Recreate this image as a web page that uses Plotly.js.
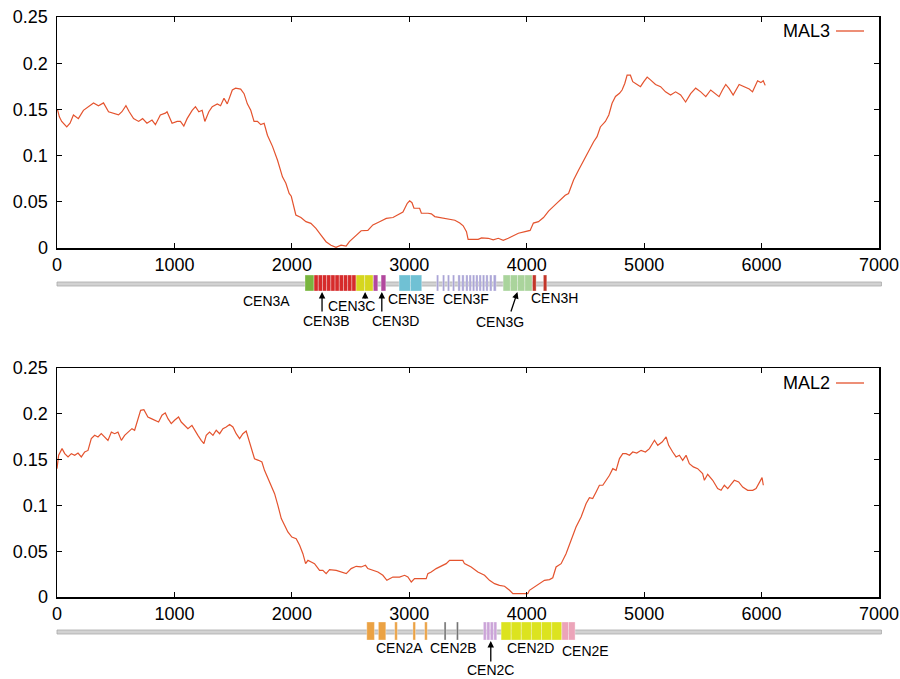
<!DOCTYPE html>
<html>
<head>
<meta charset="utf-8">
<script src="https://cdn.plot.ly/plotly-3.0.1.min.js"></script>
<style>html,body{margin:0;padding:0;background:#fff}#chart{width:900px;height:679px}</style>
</head>
<body>
<div id="chart"></div>
<script>
// ---------- data ----------
const mal3X = [0,6,20,40,83,111,140,182,225,268,311,353,396,439,481,524,553,587,615,652,695,729,766,809,838,880,923,937,980,1023,1051,1080,1108,1151,1179,1208,1236,1259,1293,1322,1365,1393,1422,1450,1493,1521,1564,1593,1621,1650,1678,1707,1735,1764,1792,1835,1878,1920,1949,1977,1995,2020,2034,2077,2120,2162,2205,2248,2291,2333,2376,2419,2462,2490,2533,2590,2647,2690,2747,2804,2861,2903,2946,2983,3003,3023,3040,3088,3103,3160,3188,3217,3259,3316,3388,3430,3459,3487,3501,3587,3615,3672,3715,3758,3800,3843,3886,3929,3986,4029,4057,4100,4143,4186,4228,4271,4328,4356,4399,4442,4485,4527,4570,4599,4627,4670,4699,4727,4756,4790,4812,4835,4855,4883,4903,4940,4969,4997,5026,5054,5097,5140,5182,5225,5268,5311,5353,5396,5439,5482,5525,5567,5610,5638,5667,5695,5724,5758,5809,5852,5895,5923,5966,5994,6014,6031];
const mal3Y = [0.150,0.149,0.142,0.137,0.131,0.135,0.144,0.140,0.149,0.153,0.157,0.154,0.157,0.1475,0.146,0.144,0.1475,0.154,0.1475,0.140,0.137,0.140,0.135,0.1385,0.1335,0.144,0.146,0.1475,0.135,0.137,0.137,0.132,0.140,0.149,0.153,0.1475,0.149,0.137,0.1475,0.153,0.156,0.154,0.162,0.156,0.171,0.173,0.172,0.167,0.156,0.149,0.137,0.137,0.1335,0.135,0.122,0.110,0.095,0.077,0.070,0.059,0.056,0.0447,0.0357,0.033,0.0285,0.0267,0.0213,0.014,0.0068,0.003,0.0007,0.003,0.002,0.007,0.0123,0.0187,0.019,0.025,0.0285,0.032,0.033,0.0357,0.039,0.0484,0.051,0.049,0.043,0.043,0.0376,0.0376,0.037,0.034,0.033,0.031,0.030,0.027,0.024,0.0177,0.0094,0.0094,0.011,0.0105,0.0088,0.0105,0.0083,0.0105,0.013,0.016,0.0177,0.019,0.027,0.0285,0.033,0.040,0.045,0.050,0.057,0.059,0.0736,0.0844,0.095,0.106,0.115,0.1205,0.131,0.137,0.144,0.1566,0.164,0.1674,0.171,0.178,0.187,0.187,0.180,0.177,0.1746,0.180,0.185,0.182,0.177,0.1746,0.169,0.1656,0.169,0.1656,0.158,0.167,0.173,0.169,0.1638,0.171,0.167,0.1638,0.171,0.177,0.1725,0.1656,0.177,0.1746,0.172,0.169,0.181,0.179,0.181,0.176];

const mal2X = [0,3,14,43,66,94,122,151,179,207,236,264,292,321,349,377,406,434,463,491,519,548,576,604,638,661,689,712,740,774,803,831,865,894,922,945,973,1001,1035,1058,1086,1115,1149,1171,1200,1228,1251,1271,1299,1328,1356,1385,1413,1441,1470,1498,1526,1555,1583,1611,1631,1660,1682,1716,1745,1767,1796,1824,1853,1881,1910,1938,1966,2000,2037,2066,2094,2117,2137,2165,2193,2236,2264,2292,2321,2378,2420,2463,2505,2548,2590,2627,2647,2690,2733,2775,2809,2860,2917,2960,2988,3017,3045,3102,3144,3158,3187,3229,3272,3314,3343,3400,3456,3470,3527,3584,3641,3683,3726,3768,3811,3854,3882,3967,4009,4023,4066,4108,4151,4194,4222,4250,4293,4335,4378,4420,4463,4506,4534,4562,4591,4619,4648,4676,4705,4733,4761,4790,4818,4846,4875,4903,4937,4974,5011,5045,5088,5116,5153,5187,5209,5243,5272,5300,5328,5357,5385,5419,5456,5498,5513,5541,5584,5626,5655,5683,5712,5740,5768,5805,5839,5882,5925,5953,5981,6004,6015];
const mal2Y = [0.140,0.1438,0.1547,0.162,0.1565,0.1529,0.1565,0.1547,0.1572,0.1529,0.1583,0.160,0.1729,0.1765,0.1747,0.1783,0.1747,0.171,0.180,0.1783,0.180,0.171,0.1765,0.180,0.1838,0.182,0.1947,0.2038,0.2045,0.1965,0.1947,0.193,0.191,0.1984,0.201,0.1947,0.1893,0.193,0.1965,0.191,0.1874,0.1838,0.1874,0.182,0.1765,0.171,0.1674,0.1765,0.180,0.1765,0.182,0.1783,0.1838,0.1856,0.1884,0.1856,0.1783,0.1729,0.1783,0.1812,0.1729,0.1583,0.151,0.1492,0.1474,0.1383,0.1292,0.1201,0.1128,0.1001,0.0856,0.0783,0.071,0.0655,0.0637,0.0564,0.0473,0.0364,0.040,0.0382,0.0364,0.029,0.029,0.0255,0.0298,0.029,0.0273,0.0255,0.031,0.0335,0.0328,0.0346,0.031,0.029,0.0273,0.0237,0.0182,0.0218,0.0218,0.0237,0.0218,0.0164,0.020,0.020,0.020,0.0255,0.0273,0.031,0.0335,0.0364,0.040,0.040,0.040,0.0364,0.0328,0.0273,0.0237,0.0182,0.0146,0.0127,0.0117,0.0073,0.0036,0.0036,0.0036,0.0073,0.0109,0.0146,0.0182,0.019,0.021,0.0328,0.0364,0.0473,0.0619,0.0764,0.0874,0.102,0.1085,0.1074,0.1147,0.122,0.122,0.1274,0.1329,0.1401,0.1383,0.1511,0.1565,0.1565,0.1547,0.1583,0.1572,0.1601,0.1583,0.162,0.1711,0.1656,0.1692,0.1747,0.1656,0.1583,0.1529,0.1547,0.1492,0.1547,0.1456,0.142,0.1401,0.1347,0.1274,0.134,0.1274,0.1183,0.1165,0.122,0.1183,0.1229,0.1274,0.1256,0.120,0.1165,0.1165,0.1183,0.1256,0.1303,0.122];

// centromere element blocks (start, end in x units; group index into names)
const cen3Names = ['CEN3A','CEN3B','CEN3C','CEN3D','CEN3E','CEN3F','CEN3G','CEN3H'];
const cen3Start = [2112, 2189,2225,2261,2296,2332,2368,2404,2440,2475,2511, 2547,2620, 2694,2760, 2913,3010, 3232,3283,3325,3368,3414,3447,3481,3509,3538,3566,3594,3623,3652,3684,3716, 3799,3861,3922,3984, 4049,4142];
const cen3End   = [2189, 2225,2261,2296,2332,2368,2404,2440,2475,2511,2547, 2620,2692, 2732,2800, 3010,3106, 3250,3301,3343,3386,3434,3467,3500,3528,3557,3585,3613,3642,3671,3704,3740, 3861,3922,3984,4046, 4080,4171];
const cen3Group = [0, 1,1,1,1,1,1,1,1,1,1, 2,2, 3,3, 4,4, 5,5,5,5,5,5,5,5,5,5,5,5,5,5,5, 6,6,6,6, 7,7];

const cen2Names = ['CEN2A','CEN2B','CEN2C','CEN2D','CEN2E'];
const cen2Start = [2638,2737,2876,3031,3131, 3297,3402, 3631,3660,3690,3720, 3782,3868,3954,4040,4126,4213, 4299,4356];
const cen2End   = [2703,2800,2898,3053,3153, 3313,3418, 3656,3686,3716,3745, 3868,3954,4040,4126,4213,4299, 4356,4412];
const cen2Group = [0,0,0,0,0, 1,1, 2,2,2,2, 3,3,3,3,3,3, 4,4];

// ---------- styles / layout ----------
const H = 679;
const py = p => 1 - p / H;           // pixel row -> paper y
const lineColor = '#e4532e';
const cen3Colors = ['#79b53f','#d62b2b','#d6d61e','#b2489e','#70c1d4','#aaa4d6','#aad49c','#c2372a'];
const cen2Colors = ['#eba244','#6e6e6e','#cba4d8','#dce31f','#eca4b9'];

// label placement (x in axis units, y in pixel rows)
const cen3LabelX = [1780,2297,2510,2879,3015,3484,3773,4233];
const cen3LabelY = [301,321,306,321,299,299,322,298];
const cen2LabelX = [2913,3373,3688,4029,4497];
const cen2LabelY = [648,648,670,648,651];

const traces = [
  {x: mal3X, y: mal3Y, type: 'scatter', mode: 'lines', name: 'MAL3', xaxis: 'x', yaxis: 'y',
   line: {color: lineColor, width: 1.2}},
  {x: mal2X, y: mal2Y, type: 'scatter', mode: 'lines', name: 'MAL2', xaxis: 'x2', yaxis: 'y2',
   line: {color: lineColor, width: 1.2}}
];

const axX = {range: [0, 7000], dtick: 1000, tick0: 0, ticks: 'inside', ticklen: 5, tickwidth: 1.2,
  tickcolor: '#000', showline: true, mirror: 'ticks', linecolor: '#000', linewidth: 1.5,
  showgrid: false, zeroline: false, fixedrange: true, tickfont: {size: 18, color: '#000'}};
const axY = {range: [0, 0.25], dtick: 0.05, tick0: 0, ticks: 'inside', ticklen: 5, tickwidth: 1.2,
  tickcolor: '#000', showline: true, mirror: 'ticks', linecolor: '#000', linewidth: 1.5,
  showgrid: false, zeroline: false, fixedrange: true, tickfont: {size: 18, color: '#000'},
  ticklabelstandoff: 4};

const shapes = [];
const annotations = [];

function track(xref, starts, ends, groups, colors, yTop, yBot, yMid, names, labX, labY) {
  shapes.push({type: 'rect', xref: 'paper', yref: 'paper', x0: 0, x1: 1.003,
    y0: py(yMid + 2), y1: py(yMid - 2), fillcolor: '#d2d2d2', line: {color: '#a9a9a9', width: 0.8}, layer: 'above'});
  for (let i = 0; i < starts.length; i++) {
    shapes.push({type: 'rect', xref: xref, yref: 'paper', x0: starts[i], x1: ends[i],
      y0: py(yBot), y1: py(yTop), fillcolor: colors[groups[i]],
      line: {color: 'rgba(255,255,255,0.55)', width: 0.6}, layer: 'above'});
  }
  for (let i = 0; i < names.length; i++) {
    annotations.push({xref: xref, yref: 'paper', x: labX[i], y: py(labY[i]), text: names[i],
      showarrow: false, xanchor: 'center', yanchor: 'middle', borderpad: 0,
      font: {family: 'Liberation Sans, Arial, sans-serif', size: 14, color: '#000'}});
  }
}
track('x', cen3Start, cen3End, cen3Group, cen3Colors, 275, 291, 284, cen3Names, cen3LabelX, cen3LabelY);
track('x2', cen2Start, cen2End, cen2Group, cen2Colors, 622, 640, 632, cen2Names, cen2LabelX, cen2LabelY);

// arrows pointing at specific elements
function arrow(xref, x, yHead, ax, ay) {
  annotations.push({xref: xref, yref: 'paper', x: x, y: py(yHead), ax: ax, ay: ay, text: '',
    showarrow: true, arrowhead: 2, arrowsize: 1, arrowwidth: 1.3, arrowcolor: '#000', standoff: 0});
}
arrow('x', 2257, 292, 0, 21);
arrow('x', 2624, 292, 0, 8);
arrow('x', 2766, 292, 0, 21);
arrow('x', 3921, 292, -7, 21);
arrow('x2', 3694, 641, 0, 22);

// gnuplot-style keys (text then line sample)
function key(name, yPix) {
  annotations.push({xref: 'paper', yref: 'paper', x: (832 - 57) / 822, y: py(yPix), text: name,
    showarrow: false, xanchor: 'right', yanchor: 'middle', font: {size: 18, color: '#000'}});
  shapes.push({type: 'line', xref: 'paper', yref: 'paper', x0: (836 - 57) / 822, x1: (864 - 57) / 822,
    y0: py(yPix), y1: py(yPix), line: {color: lineColor, width: 1.3}});
}
key('MAL3', 31);
key('MAL2', 383);

const layout = {
  width: 900, height: 679,
  margin: {l: 57, r: 21, t: 0, b: 0, pad: 0},
  paper_bgcolor: '#fff', plot_bgcolor: '#fff',
  showlegend: false,
  font: {family: 'Liberation Sans, Arial, sans-serif', size: 18, color: '#000'},
  xaxis: Object.assign({}, axX, {domain: [0, 1], anchor: 'y'}),
  yaxis: Object.assign({}, axY, {domain: [py(248), py(17)], anchor: 'x'}),
  xaxis2: Object.assign({}, axX, {domain: [0, 1], anchor: 'y2'}),
  yaxis2: Object.assign({}, axY, {domain: [py(597), py(368)], anchor: 'x2'}),
  shapes: shapes,
  annotations: annotations
};

Plotly.newPlot('chart', traces, layout, {staticPlot: true, displayModeBar: false});
</script>
</body>
</html>
